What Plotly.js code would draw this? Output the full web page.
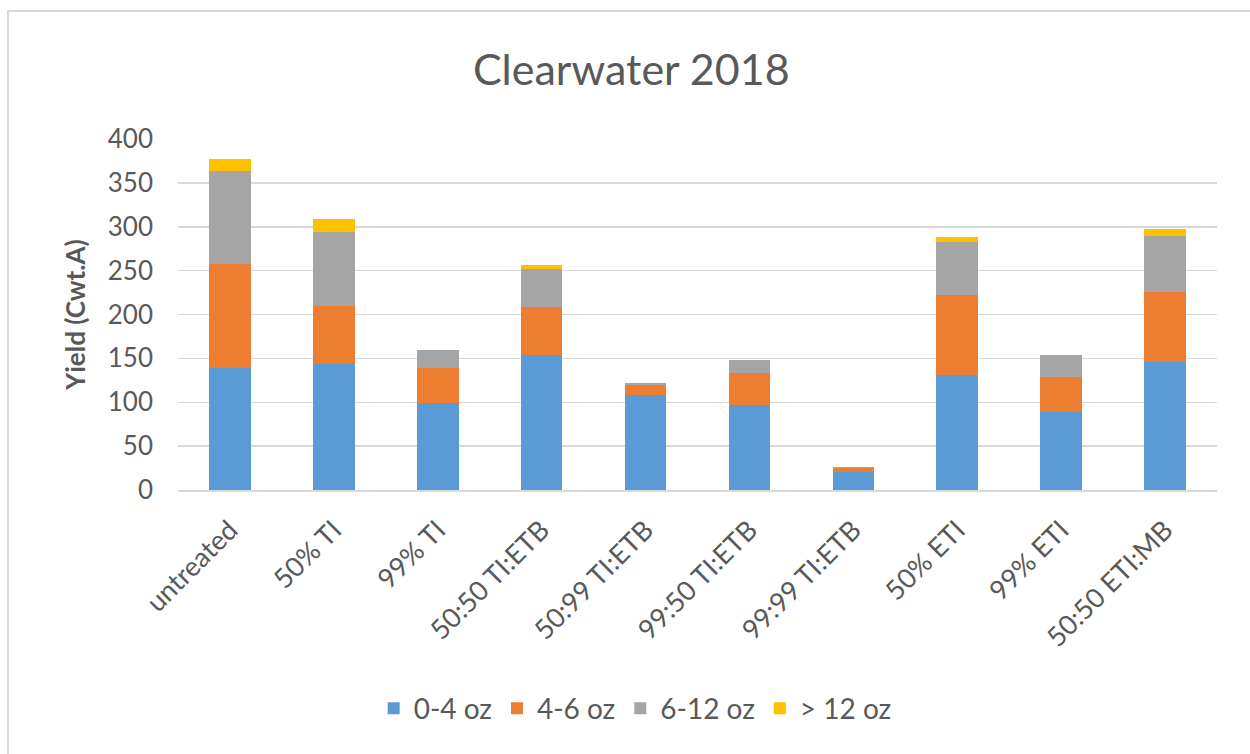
<!DOCTYPE html>
<html>
<head>
<meta charset="utf-8">
<script src="https://cdn.plot.ly/plotly-3.0.1.min.js"></script>
<style>
  html, body { margin: 0; padding: 0; background: #ffffff; }
  #frame { position: absolute; left: 7px; top: 10px; width: 1243px; height: 744px;
           border-left: 2px solid #d9d9d9; border-top: 2px solid #d9d9d9; box-sizing: border-box; }
  #chart { position: absolute; left: 0; top: 0; width: 1250px; height: 754px; }
</style>
</head>
<body>
<div id="frame"></div>
<div id="chart"></div>
<script>
const categories = ["untreated", "50% TI", "99% TI", "50:50 TI:ETB", "50:99 TI:ETB",
                    "99:50 TI:ETB", "99:99 TI:ETB", "50% ETI", "99% ETI", "50:50 ETI:MB"];
const oz0to4   = [139, 144,  99, 154, 108,  97, 21, 131,  89, 146];
const oz4to6   = [119,  66,  40,  55,  12,  36,  4,  91,  40,  80];
const oz6to12  = [106,  84,  21,  43,   2,  15, 1.5, 61,  25,  64];
const ozOver12 = [ 13,  15,   0,   4,   0,   0,  0, 5.5,   0,   8];
const seriesNames = ["0-4 oz", "4-6 oz", "6-12 oz", "> 12 oz"];
const yTicks = [0, 50, 100, 150, 200, 250, 300, 350, 400];

const colors = ["#5B9BD5", "#ED7D31", "#A5A5A5", "#FFC000"];
const values = [oz0to4, oz4to6, oz6to12, ozOver12];

const traces = values.map((v, i) => ({
  type: "bar",
  name: seriesNames[i],
  x: categories,
  y: v,
  marker: { color: colors[i], line: { width: 0 } },
  hoverinfo: "x+y+name"
}));

const txt = "#595959";
const fontFam = "Lato, 'Open Sans', 'Liberation Sans', sans-serif";

const layout = {
  width: 1250, height: 754,
  paper_bgcolor: "rgba(0,0,0,0)",
  plot_bgcolor: "rgba(0,0,0,0)",
  barmode: "stack",
  bargap: 0.6,
  margin: { l: 178, r: 33, t: 139, b: 264 },
  font: { family: fontFam, color: txt, size: 26 },
  title: { text: "Clearwater 2018", x: 0.505, xanchor: "center", xref: "container",
           y: 0.907, yanchor: "middle", yref: "container",
           font: { size: 43, color: txt, family: fontFam } },
  xaxis: {
    type: "category",
    tickangle: -45,
    tickfont: { size: 27, color: txt },
    showgrid: false,
    showline: true, linecolor: "#d9d9d9", linewidth: 1.5,
    ticks: "", ticklen: 0,
    ticklabelstandoff: 12,
    automargin: false
  },
  yaxis: {
    range: [0, 400],
    tickvals: yTicks,
    tickfont: { size: 26, color: txt },
    showgrid: true, gridcolor: "#d9d9d9", gridwidth: 1.5,
    zeroline: false, showline: false, ticks: "",
    ticklabelstandoff: 24,
    title: { text: "<b>Yield (Cwt.A)</b>", font: { size: 26, color: txt }, standoff: 14 },
    automargin: false
  },
  legend: {
    orientation: "h", x: 0.44, xanchor: "center", y: -0.623, yanchor: "middle",
    font: { size: 28, color: txt }, traceorder: "normal",
    itemwidth: 30
  },
  showlegend: true
};

Plotly.newPlot("chart", traces, layout, { displayModeBar: false, staticPlot: true });
</script>
</body>
</html>
